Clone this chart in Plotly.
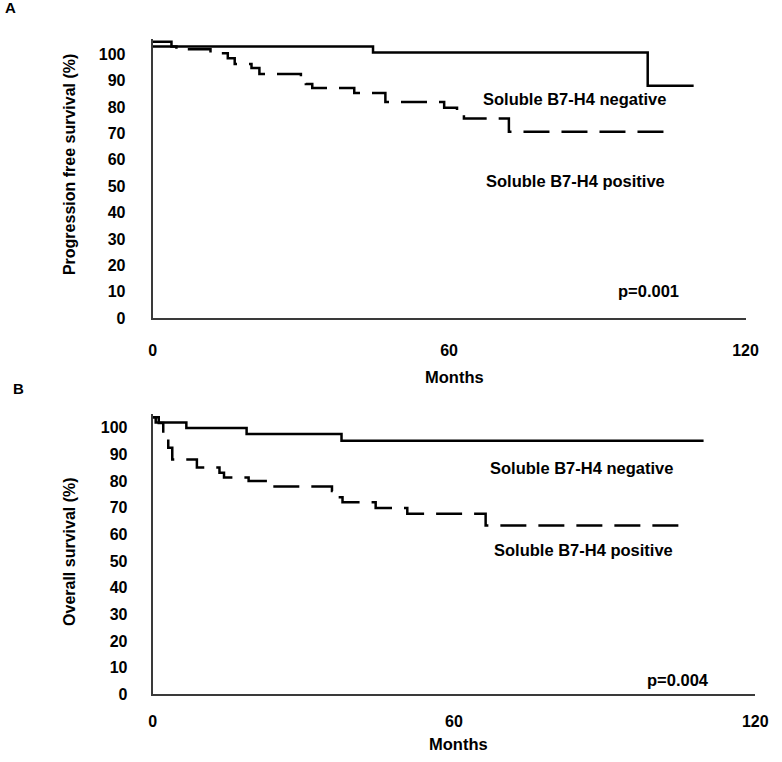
import plotly.graph_objects as go

# ---- data (months, survival %) ----
# Panel A: progression free survival
a_neg_months = [0, 3.8, 44.6, 100.2, 109.5]
a_neg_surv = [104.8, 103.0, 100.7, 88.1, 88.1]

a_pos_months = [0, 4.8, 11.7, 15.2, 16.6, 20.0, 21.6, 30.0, 31.0, 32.3, 40.8, 47.1,
                59.0, 61.6, 63.0, 72.1, 103.6]
a_pos_surv = [103.0, 101.9, 100.4, 98.5, 96.3, 94.8, 92.5, 90.6, 88.8, 87.2, 85.3, 81.9,
              79.8, 78.4, 75.7, 70.7, 70.7]

# Panel B: overall survival
b_neg_months = [0, 0.6, 6.7, 18.7, 37.6, 109.7]
b_neg_surv = [103.9, 101.9, 99.8, 97.6, 95.1, 95.1]

b_pos_months = [0, 1.2, 2.1, 3.1, 3.9, 8.8, 13.3, 14.2, 19.1, 23.0, 35.7, 36.6, 37.8,
                44.4, 50.7, 66.3, 105.5]
b_pos_surv = [103.9, 101.7, 96.7, 92.4, 88.0, 85.0, 83.1, 81.3, 80.0, 77.9, 76.2, 73.9,
              72.0, 69.9, 67.7, 63.3, 63.3]

y_ticks = [0, 10, 20, 30, 40, 50, 60, 70, 80, 90, 100]
x_ticks = [0, 60, 120]

FONT = "Liberation Sans, Arial, sans-serif"
W, H = 782, 762

fig = go.Figure()

line_solid = dict(color="black", width=2.5)
line_dash = dict(color="black", width=2.5, dash="26px,12px")

fig.add_trace(go.Scatter(x=a_neg_months, y=a_neg_surv, mode="lines", line_shape="hv",
                         line=line_solid, xaxis="x", yaxis="y", showlegend=False))
fig.add_trace(go.Scatter(x=a_pos_months, y=a_pos_surv, mode="lines", line_shape="hv",
                         line=line_dash, xaxis="x", yaxis="y", showlegend=False))
fig.add_trace(go.Scatter(x=b_neg_months, y=b_neg_surv, mode="lines", line_shape="hv",
                         line=line_solid, xaxis="x2", yaxis="y2", showlegend=False))
fig.add_trace(go.Scatter(x=b_pos_months, y=b_pos_surv, mode="lines", line_shape="hv",
                         line=line_dash, xaxis="x2", yaxis="y2", showlegend=False))

tickfont = dict(family=FONT, size=16, color="black", weight="bold")
axis_common = dict(showgrid=False, zeroline=False, showline=True, linecolor="#3a3a3a",
                   linewidth=2, ticks="", tickfont=tickfont)

def py(p):
    return 1 - p / H

def px(p):
    return p / W

fig.update_layout(
    width=W, height=H, autosize=False,
    margin=dict(l=0, r=0, t=0, b=0),
    paper_bgcolor="white", plot_bgcolor="white",
    xaxis=dict(domain=[px(152), px(758)], range=[0, 120], tickvals=x_ticks,
               anchor="y", ticklabelstandoff=17, **axis_common),
    yaxis=dict(domain=[py(322), py(39.5)], range=[0, 105.8], tickvals=y_ticks,
               anchor="x", ticklabelstandoff=22, **axis_common),
    xaxis2=dict(domain=[px(152), px(768)], range=[0, 120], tickvals=x_ticks,
                anchor="y2", ticklabelstandoff=11, **axis_common),
    yaxis2=dict(domain=[py(702.7), py(419.2)], range=[0, 105], tickvals=y_ticks,
                anchor="x2", ticklabelstandoff=20, **axis_common),
)

def ann(text, x, y, size=16.5, angle=0):
    fig.add_annotation(text=text, x=px(x), y=py(y), xref="paper", yref="paper",
                       showarrow=False, textangle=angle, xanchor="center", yanchor="middle",
                       font=dict(family=FONT, size=size, color="black", weight="bold"))

ann("A", 7, 8, size=15)
ann("B", 15, 393, size=15)
ann("Progression free survival (%)", 67, 166.5, size=16, angle=-90)
ann("Overall survival (%)", 67, 558, size=16, angle=-90)
ann("Months", 461, 381)
ann("Months", 465, 753)
ann("Soluble B7-H4 negative", 583, 100)
ann("Soluble B7-H4 positive", 584.5, 182.7)
ann("p=0.001", 658.5, 294.3)
ann("Soluble B7-H4 negative", 590, 473.3)
ann("Soluble B7-H4 positive", 592.5, 556.7)
ann("p=0.004", 689, 688.3)

fig.write_html(
    "out.html",
    config={"displayModeBar": False},
    post_script=(
        "document.body.style.margin='0px';"
        "document.body.style.overflow='hidden';"
        "document.documentElement.style.overflow='hidden';"
    ),
)
